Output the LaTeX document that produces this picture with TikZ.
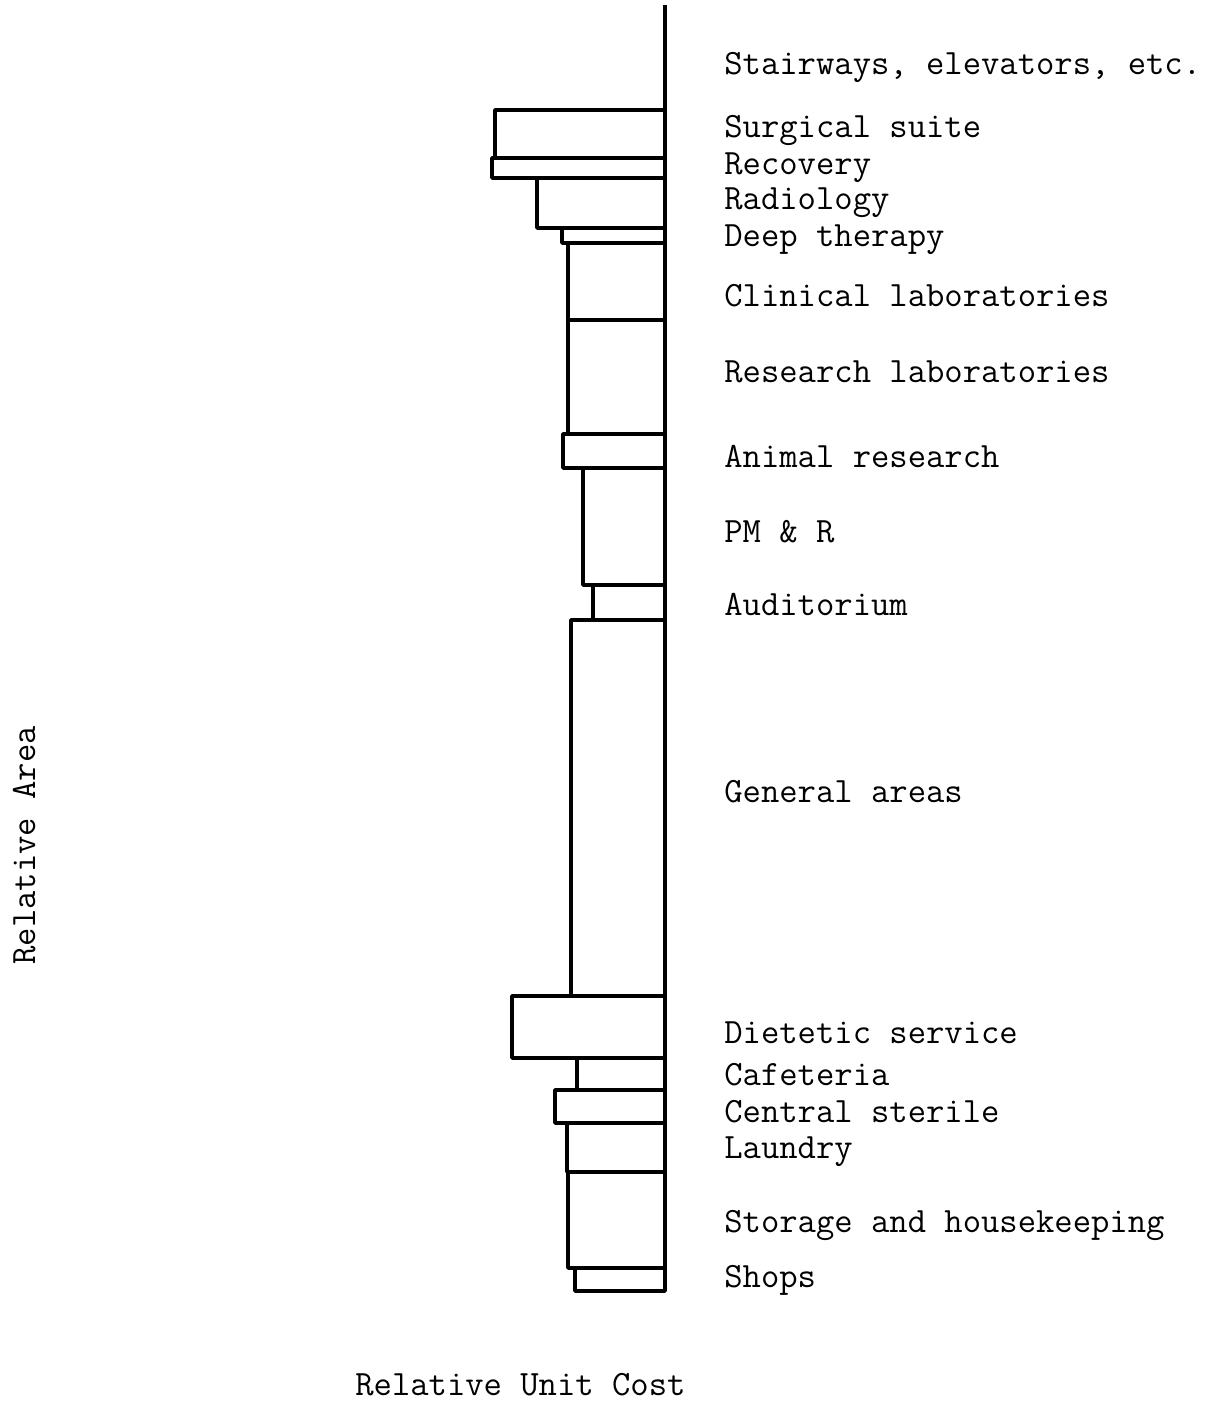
\documentclass[tikz,border=0pt]{standalone}
\usepackage{tikz}

\begin{document}
\begin{tikzpicture}[x=0.5pt, y=-0.5pt,
		bar/.style={draw, line width=1.8pt, line join=round},
		lbl/.style={anchor=base west, inner sep=0pt, font=\fontsize{17.8}{20}\selectfont\ttfamily}]
		\useasboundingbox (0,0) rectangle (1207,1406);
		
		% bars, top to bottom
		\draw[bar] (495,110) rectangle (665,158);
		\draw[bar] (492,158) rectangle (665,178);
		\draw[bar] (537,178) rectangle (665,228);
		\draw[bar] (562,228) rectangle (665,243);
		\draw[bar] (568,243) rectangle (665,320);
		\draw[bar] (568,320) rectangle (665,434);
		\draw[bar] (563,434) rectangle (665,468);
		\draw[bar] (583,468) rectangle (665,585);
		\draw[bar] (593,585) rectangle (665,620);
		\draw[bar] (571,620) rectangle (665,996);
		\draw[bar] (512,996) rectangle (665,1058);
		\draw[bar] (577,1058) rectangle (665,1090);
		\draw[bar] (555,1090) rectangle (665,1123);
		\draw[bar] (567,1123) rectangle (665,1172);
		\draw[bar] (568,1172) rectangle (665,1268);
		\draw[bar] (575,1268) rectangle (665,1291);
		
		% axis
		\coordinate (top) at (665,5);
		\coordinate (bot) at (665,1291);
		\draw[line width=1.6pt] (top) -- (bot);
		
		\node[lbl] (stair) at (724,75) {Stairways, elevators, etc.};
		\node[lbl] (surg) at (724,138) {Surgical suite};
		\node[lbl] (recov) at (724,175) {Recovery};
		\node[lbl] (radio) at (724,210) {Radiology};
		\node[lbl] (deep) at (724,247) {Deep therapy};
		\node[lbl] (clin) at (724,307) {Clinical laboratories};
		\node[lbl] (rsrch) at (724,383) {Research laboratories};
		\node[lbl] (anim) at (724,467) {Animal research};
		\node[lbl] (pmr) at (724,542) {PM \& R};
		\node[lbl] (audit) at (724,615) {Auditorium};
		\node[lbl] (gen) at (724,802) {General areas};
		\node[lbl] (diet) at (724,1043) {Dietetic service};
		\node[lbl] (cafe) at (724,1085) {Cafeteria};
		\node[lbl] (steril) at (724,1122) {Central sterile};
		\node[lbl] (laund) at (724,1158) {Laundry};
		\node[lbl] (store) at (724,1232) {Storage and housekeeping};
		\node[lbl] (shops) at (724,1287) {Shops};
		
		\node[lbl] (cost) at (355,1395) {Relative Unit Cost};
		\node[lbl, rotate=90] (area) at (35,965) {Relative Area};
		
	\end{tikzpicture}
\end{document}
